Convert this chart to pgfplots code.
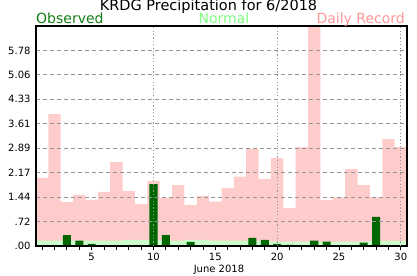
\documentclass[border=0pt]{standalone}
\usepackage{pgfplots}
\pgfplotsset{compat=1.18}
\usepackage{fontspec}
\setmainfont{DejaVu Sans}
\definecolor{rec}{RGB}{255,204,204}
\definecolor{nrm}{RGB}{204,255,204}
\definecolor{obs}{RGB}{0,102,0}
\definecolor{obstxt}{RGB}{20,125,20}
\definecolor{nrmtxt}{RGB}{128,255,128}
\definecolor{rectxt}{RGB}{255,150,150}
\definecolor{gridc}{RGB}{150,150,150}
\begin{document}
\begin{tikzpicture}
\begin{axis}[
  at={(0,0)}, anchor=south west,
  scale only axis, width=371bp, height=220bp,
  xmin=0.5, xmax=30.5, ymin=0, ymax=6.5,
  axis on top,
  axis line style={line width=1.2bp},
  /pgf/number format/assume math mode=true,
  tick label style={font=\fontsize{10bp}{12bp}\selectfont},
  yticklabel style={xshift=-2bp},
  xtick={5,10,15,20,25,30}, xticklabels={5,10,15,20,25,30},
  minor xtick={1,...,30},
  xtick pos=bottom, xtick align=outside,
  major tick length=4bp, minor tick length=4bp,
  xtick style={black, line width=0.9bp},
  extra x ticks={10,20,30}, extra x tick labels={},
  extra x tick style={grid=major, major tick length=0pt,
    major grid style={gridc, dash pattern=on 1.2bp off 2.2bp, line width=0.9bp}},
  ytick={0,0.72222,1.44444,2.16667,2.88889,3.61111,4.33333,5.05556,5.77778},
  yticklabels={.00,.72,1.44,2.17,2.89,3.61,4.33,5.06,5.78},
  ytick style={draw=none},
  ymajorgrids,
  major grid style={gridc, dash pattern=on 4bp off 3bp, line width=0.8bp},
]
\addplot[ybar, bar width=1, bar shift=0pt, fill=rec, draw=none] coordinates {
(1,2.01) (2,3.90) (3,1.30) (4,1.51) (5,1.36) (6,1.60) (7,2.48) (8,1.62) (9,1.24) (10,1.92)
(11,1.42) (12,1.80) (13,1.21) (14,1.48) (15,1.31) (16,1.71) (17,2.05) (18,2.87) (19,1.98) (20,2.60)
(21,1.12) (22,2.92) (23,6.50) (24,1.36) (25,1.44) (26,2.27) (27,1.80) (28,1.44) (29,3.16) (30,2.92)};
\addplot[ybar, bar width=1, bar shift=0pt, fill=nrm, draw=none] coordinates {
(1,0.16) (2,0.16) (3,0.16) (4,0.16) (5,0.16) (6,0.16) (7,0.16) (8,0.18) (9,0.18) (10,0.18)
(11,0.16) (12,0.16) (13,0.18) (14,0.18) (15,0.16) (16,0.16) (17,0.16) (18,0.16) (19,0.16) (20,0.13)
(21,0.13) (22,0.13) (23,0.13) (24,0.13) (25,0.13) (26,0.13) (27,0.13) (28,0.15) (29,0.15) (30,0.15)};
\addplot[ybar, bar width=0.65, bar shift=0pt, fill=obs, draw=none] coordinates {
(3,0.32) (4,0.16) (5,0.06) (10,1.83) (11,0.32) (13,0.12) (18,0.24) (19,0.18) (20,0.06)
(21,0.03) (23,0.16) (24,0.13) (27,0.10) (28,0.86)};
\end{axis}
\node[anchor=base, inner sep=0, font=\fontsize{14.5bp}{16bp}\selectfont] at (172.5bp,235bp) {KRDG Precipitation for 6/2018};
\node[anchor=base west, inner sep=0, text=obstxt, font=\fontsize{14bp}{16bp}\selectfont] at (0bp,222bp) {Observed};
\node[anchor=base, inner sep=0, text=nrmtxt, font=\fontsize{14bp}{16bp}\selectfont] at (188bp,222bp) {Normal};
\node[anchor=base east, inner sep=0, text=rectxt, font=\fontsize{14bp}{16bp}\selectfont] at (369bp,222bp) {Daily Record};
\node[anchor=base, inner sep=0, font=\fontsize{10bp}{12bp}\selectfont] at (183bp,-26.7bp) {June 2018};
\pgfresetboundingbox
\path[use as bounding box] (-36bp,-30bp) rectangle (381bp,246bp);
\end{tikzpicture}
\end{document}
